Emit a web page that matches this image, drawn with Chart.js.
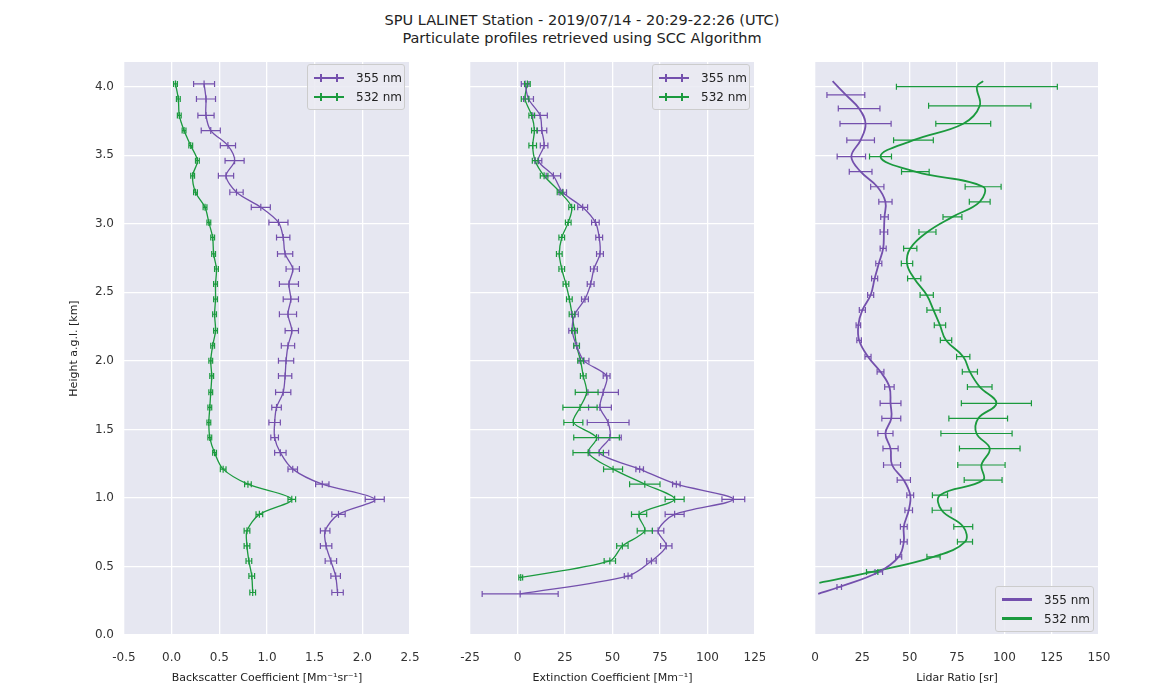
<!DOCTYPE html>
<html><head><meta charset="utf-8">
<script src="https://cdn.jsdelivr.net/npm/chart.js@4"></script>
<style>
body{margin:0;background:#fff;font-family:"DejaVu Sans",sans-serif;}
#wrap{position:relative;width:1164px;height:685px;}
canvas{position:absolute;top:0;}
.title{position:absolute;left:0;width:1164px;text-align:center;font-size:14.5px;color:#222;}
.leg{position:absolute;background:rgba(234,234,242,0.85);border:1px solid #ccc;border-radius:3px;font-size:12px;color:#222;padding:3px 6px;white-space:nowrap;box-sizing:border-box;}
.row{display:flex;align-items:center;height:19px;}
.ln{position:relative;width:30px;height:2px;margin-right:12px;flex:none;}
.ln i{position:absolute;top:-3px;width:1.5px;height:8px;}
</style></head><body>
<div id="wrap">
<div class="title" style="top:12px">SPU LALINET Station - 2019/07/14 - 20:29-22:26 (UTC)</div>
<div class="title" style="top:30px">Particulate profiles retrieved using SCC Algorithm</div>
<canvas id="c1" width="360" height="685" style="left:64px;width:360px;height:685px"></canvas>
<canvas id="c2" width="335" height="685" style="left:430px;width:335px;height:685px"></canvas>
<canvas id="c3" width="335" height="685" style="left:775px;width:335px;height:685px"></canvas>
</div>
<script>
const PURPLE='#7450ad', GREEN='#1b9a3e';
const heights=[4.02,3.91,3.79,3.68,3.57,3.46,3.35,3.23,3.12,3.01,2.90,2.78,2.67,2.56,2.45,2.34,2.22,2.11,2.00,1.89,1.77,1.66,1.55,1.44,1.33,1.21,1.10,0.99,0.88,0.76,0.65,0.54,0.43,0.31];
const bsc355=[0.34,0.36,0.36,0.41,0.59,0.66,0.57,0.68,0.935,1.12,1.17,1.19,1.27,1.23,1.25,1.22,1.26,1.22,1.20,1.19,1.17,1.10,1.08,1.08,1.14,1.27,1.58,2.13,1.75,1.61,1.62,1.67,1.72,1.74];
const bsc355err=[0.11,0.10,0.085,0.10,0.08,0.10,0.08,0.07,0.10,0.10,0.07,0.08,0.07,0.10,0.08,0.09,0.07,0.07,0.08,0.07,0.08,0.05,0.06,0.04,0.06,0.05,0.07,0.10,0.07,0.05,0.06,0.06,0.05,0.06];
const bsc532=[0.04,0.07,0.08,0.13,0.20,0.27,0.22,0.25,0.35,0.39,0.43,0.44,0.47,0.46,0.46,0.45,0.46,0.43,0.41,0.42,0.41,0.40,0.39,0.40,0.45,0.54,0.80,1.26,0.92,0.79,0.79,0.81,0.84,0.85];
const bsc532err=[0.02,0.02,0.02,0.02,0.02,0.02,0.02,0.02,0.02,0.02,0.02,0.02,0.02,0.02,0.02,0.02,0.02,0.02,0.02,0.02,0.02,0.02,0.02,0.02,0.02,0.03,0.035,0.04,0.035,0.03,0.03,0.03,0.03,0.03];
const ext355H=[4.02,3.91,3.79,3.68,3.57,3.46,3.35,3.23,3.12,3.01,2.90,2.78,2.67,2.56,2.45,2.34,2.22,2.11,2.00,1.89,1.77,1.66,1.55,1.44,1.33,1.21,1.10,0.99,0.88,0.76,0.65,0.54,0.43,0.30];
const ext355=[4.0,5.8,11.9,12.8,14,11,18.9,23.8,34.3,41,43,43.4,40.2,38.5,35.5,30.2,28.8,31.1,35,46.9,45.1,43.4,47.7,48.6,43,64.3,83.6,113.6,82.7,74,78.3,70.5,58.2,1.4];
const ext355err=[2,2.6,3.8,2.6,2,1.8,3.8,2,2.6,2,1.8,1.8,1.8,1.8,1.8,1.8,1.8,1.5,2.6,1.8,8,6,11,6,5,2,2,6,5,3,3,2.5,2,20];
const ext532H=[4.02,3.91,3.79,3.68,3.57,3.46,3.35,3.23,3.12,3.01,2.90,2.78,2.67,2.56,2.45,2.34,2.22,2.11,2.00,1.89,1.77,1.66,1.55,1.44,1.33,1.21,1.10,0.99,0.88,0.76,0.65,0.54,0.42];
const ext532=[5.2,4,7.5,8.9,8,9.3,14,22.4,28.5,26.7,23.3,22,23.3,25.5,27.3,28.7,30,31.1,33.2,34.6,36.4,32.9,29.4,41.6,37.2,50.3,67,82.7,64,67,55.2,48.6,1.7];
const ext532err=[1.5,2,1.5,1.5,2,1.5,2,1.5,1.5,1.5,1.5,1.5,1.5,1.5,1.5,1.5,1.5,1.5,1.5,1.5,6,9,5,12,8,5,8,5,4,4,3,3,1];
const lr355H=[4.04,3.94,3.84,3.73,3.61,3.49,3.38,3.27,3.16,3.05,2.94,2.82,2.71,2.60,2.48,2.37,2.26,2.15,2.03,1.92,1.81,1.69,1.58,1.47,1.36,1.24,1.13,1.02,0.91,0.79,0.68,0.57,0.46,0.35,0.30];
const lr355=[9.3,16.3,23.3,26.7,24.1,19.2,24.1,32.9,37.2,36.7,36.4,36,33.7,31.5,29.4,25,22.9,23.3,28,34.6,39.3,39.9,40.3,37.2,39.9,40.7,46.9,50.3,49.5,46.9,46.9,44.2,33.7,12.8,1.7];
const lr355err=[null,10,11,13.5,7.3,7.5,6,3.5,3.5,2,2,1.6,1.6,1.6,1.6,1.6,1.2,1.2,1.6,1.8,2.5,5.5,5,4,4,4.5,3.5,1.8,2,1.8,1.8,1.6,2,1.2,null];
const lr532H=[4.04,4.00,3.86,3.73,3.61,3.49,3.38,3.27,3.16,3.05,2.94,2.82,2.71,2.60,2.48,2.37,2.26,2.15,2.03,1.92,1.81,1.69,1.58,1.47,1.36,1.24,1.13,1.02,0.91,0.79,0.68,0.57,0.46,0.38];
const lr532=[88.8,85.5,87,78.3,52,34.6,53,88.8,87,72.6,59.4,50.3,48.6,52.4,59,62.6,66,69.2,78.3,81.8,87,95.8,86.2,85.3,92.3,87.9,88.8,66,66.9,78.3,79.2,62.6,30.2,2.3];
const lr532err=[null,42.5,27,14.5,10.5,5.8,7.3,9.5,5.5,5,4.5,3.5,3,3.5,3.5,3.5,3,3,3.5,4,6.5,18.5,15.5,18.8,16,12.5,10,4,5,5,4,3.5,3,null];

const errPlugin={id:'err',afterDatasetsDraw(chart){
  const ctx=chart.ctx,xs=chart.scales.x,ys=chart.scales.y;
  chart.data.datasets.forEach(ds=>{ if(!ds.errs) return;
    ctx.save();ctx.strokeStyle=ds.borderColor;ctx.lineWidth=1.2;
    ds.data.forEach((p,i)=>{const e=ds.errs[i]; if(e==null) return;
      const y=ys.getPixelForValue(p.y),x1=xs.getPixelForValue(p.x-e),x2=xs.getPixelForValue(p.x+e);
      ctx.beginPath();ctx.moveTo(x1,y);ctx.lineTo(x2,y);
      ctx.moveTo(x1,y-3);ctx.lineTo(x1,y+3);ctx.moveTo(x2,y-3);ctx.lineTo(x2,y+3);ctx.stroke();});
    ctx.restore();});
}};
const bgPlugin={id:'bg',beforeDraw(chart){const a=chart.chartArea,c=chart.ctx;c.save();c.fillStyle='#e6e7f1';c.fillRect(a.left,a.top,a.right-a.left,a.bottom-a.top);c.restore();}};

function pts(xs,ys){return xs.map((v,i)=>({x:v,y:ys[i]}));}
function mk(id,cfg){
  const ds=cfg.series.map(s=>({data:pts(s.x,s.h),errs:s.e,borderColor:s.c,backgroundColor:s.c,
    borderWidth:cfg.smooth?1.8:1.3,tension:cfg.smooth?0.4:0.3,showLine:true,
    pointStyle:'line',rotation:90,pointRadius:cfg.smooth?0:3.5,pointBorderWidth:1.2}));
  const filt=(step)=>function(ax){ax.ticks=ax.ticks.filter(t=>Math.abs(t.value/step-Math.round(t.value/step))<1e-6);};
  new Chart(document.getElementById(id),{type:'scatter',data:{datasets:ds},plugins:[bgPlugin,errPlugin],
    options:{responsive:false,animation:false,
      layout:{padding:{top:62,right:cfg.pr,left:0,bottom:0}},
      plugins:{legend:{display:false},tooltip:{enabled:false}},
      scales:{
        x:{min:cfg.xmin,max:cfg.xmax,afterBuildTicks:filt(cfg.step),ticks:{stepSize:cfg.step,color:'#333',font:{size:12,family:'DejaVu Sans'},callback:cfg.fmt,padding:16,maxRotation:0,minRotation:0},
          grid:{color:'#fff',lineWidth:1.3,drawTicks:false},border:{display:false},
          title:{display:true,text:cfg.xt,color:'#222',font:{size:11,family:'DejaVu Sans'},padding:{top:0,bottom:0}},
          afterFit(a){a.height=50;a.paddingRight=0;a.paddingLeft=0;}},
        y:{min:0,max:4.18,afterBuildTicks:filt(0.5),ticks:{display:cfg.ylab,stepSize:0.5,color:'#333',font:{size:12,family:'DejaVu Sans'},callback:v=>v.toFixed(1),padding:10},
          grid:{color:'#fff',lineWidth:1.3,drawTicks:false},border:{display:false},
          title:{display:cfg.ylab,text:'Height a.g.l. [km]',color:'#222',font:{size:11,family:'DejaVu Sans'}},
          afterFit(a){a.width=cfg.yw;}}
      }}});
}
mk('c1',{xmin:-0.5,xmax:2.5,step:0.5,fmt:v=>v.toFixed(1),xt:'Backscatter Coefficient [Mm\u207B\u00B9sr\u207B\u00B9]',ylab:true,yw:60,pr:14,
  series:[{x:bsc355,h:heights,e:bsc355err,c:PURPLE},{x:bsc532,h:heights,e:bsc532err,c:GREEN}]});
mk('c2',{xmin:-25,xmax:125,step:25,fmt:v=>String(v),xt:'Extinction Coefficient [Mm\u207B\u00B9]',ylab:false,yw:40,pr:10,
  series:[{x:ext355,h:ext355H,e:ext355err,c:PURPLE},{x:ext532,h:ext532H,e:ext532err,c:GREEN}]});
mk('c3',{xmin:0,xmax:150,step:25,fmt:v=>String(v),xt:'Lidar Ratio [sr]',ylab:false,yw:40,pr:11,smooth:true,
  series:[{x:lr355,h:lr355H,e:lr355err,c:PURPLE},{x:lr532,h:lr532H,e:lr532err,c:GREEN}]});

function legend(left,top,w,ticks,thick){
  const d=document.createElement('div');d.className='leg';d.style.left=left+'px';d.style.top=top+'px';d.style.width=w+'px';
  [['355 nm',PURPLE],['532 nm',GREEN]].forEach(([t,c])=>{
    const r=document.createElement('div');r.className='row';
    const l=document.createElement('span');l.className='ln';l.style.background=c;if(thick)l.style.height='2.5px';
    if(ticks){[6,22].forEach(x=>{const i=document.createElement('i');i.style.left=x+'px';i.style.background=c;l.appendChild(i);});}
    r.appendChild(l);const s=document.createElement('span');s.textContent=t;r.appendChild(s);d.appendChild(r);});
  document.getElementById('wrap').appendChild(d);
}
legend(307,64,98,true,false);
legend(652,64,98,true,false);
legend(995,586,99,false,true);
</script></body></html>
